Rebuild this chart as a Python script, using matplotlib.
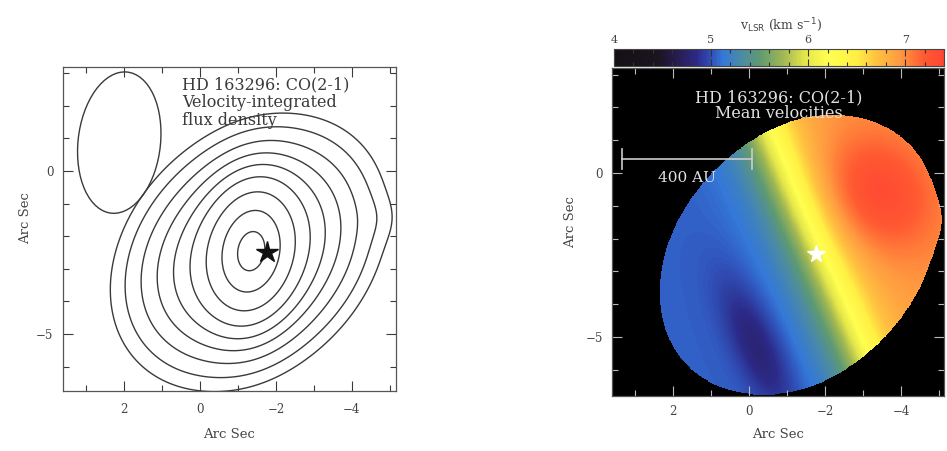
import numpy as np
import matplotlib
matplotlib.use("Agg")
import matplotlib.pyplot as plt
from matplotlib.colors import LinearSegmentedColormap
from matplotlib.patches import Ellipse
from matplotlib.ticker import MultipleLocator

plt.rcParams['font.family'] = ['DejaVu Serif']

# ---- velocity-integrated CO(2-1) flux: elliptical Gaussian components ----
comp_amp = [0.50, 0.50, 0.012]
comp_x0 = [-1.36, -1.29, -4.80]
comp_y0 = [-2.45, -2.50, -1.45]
comp_smaj = [1.30, 2.40, 0.50]
comp_smin = [0.70, 1.75, 0.40]
comp_pa = [95.0, 120.0, 90.0]          # major-axis angle, deg from +x
# offsets east of the peak (arcsec) where each contour crosses the E-W cut
contour_radii = [0.36, 0.765, 1.17, 1.575, 1.98, 2.385, 2.79, 3.195, 3.57]

# synthesized beam (arcsec)
beam_x, beam_y = 2.12, 0.87
beam_w, beam_h, beam_pa = 2.17, 4.35, 5.0

# stellar position (arcsec offsets)
star_x, star_y = -1.76, -2.48

# ---- mean velocity field (km/s) ----
v_sys = 6.0
v_amp = 0.95
v_scale = 1.0
v_grad_pa = 159.6
v_bump_amp = [0.40, -0.28]
v_bump_x0 = [-3.4, -0.2]
v_bump_y0 = [-0.6, -5.3]
v_bump_sa = [1.3, 1.5]
v_bump_sb = [1.0, 0.45]
v_bump_pa = [69.6, 69.6]

v_min, v_max = 4.0, 7.4
cbar_ticks = [4, 5, 6, 7]

# colour table for v_LSR
cmap_vals = [4.0, 4.45, 4.65, 4.85, 5.0, 5.12, 5.3, 5.5, 5.75, 5.97,
             6.2, 6.5, 6.7, 6.95, 7.2, 7.4]
cmap_cols = ['#141014', '#1a1420', '#281c50', '#2c2a88', '#3050b8', '#3478d8',
             '#4a8aa8', '#5f9a72', '#a2b852', '#e4e64a', '#ffff50', '#fff044',
             '#ffc440', '#ff9a40', '#ff5a32', '#ff4634']

# scale bar
scale_au = 400
distance_pc = 117.0
bar_x0, bar_y = 3.34, 0.43


def gauss2d(X, Y, amp, x0, y0, sa, sb, pa):
    t = np.deg2rad(pa)
    dx, dy = X - x0, Y - y0
    u = dx * np.cos(t) + dy * np.sin(t)
    w = -dx * np.sin(t) + dy * np.cos(t)
    return amp * np.exp(-0.5 * ((u / sa) ** 2 + (w / sb) ** 2))


x = np.linspace(-5.6, 4.0, 700)
y = np.linspace(-7.5, 3.6, 700)
X, Y = np.meshgrid(x, y)

flux = np.zeros_like(X)
for p in zip(comp_amp, comp_x0, comp_y0, comp_smaj, comp_smin, comp_pa):
    flux += gauss2d(X, Y, *p)
flux /= flux.max()

# contour levels: flux values at the listed radii along the E-W cut
iy, ix = np.unravel_index(np.argmax(flux), flux.shape)
cut = flux[iy, ix:]
cut_r = x[ix:] - x[ix]
flux_levels = np.sort(np.interp(contour_radii, cut_r, cut))

g = np.deg2rad(v_grad_pa)
t = (X - star_x) * np.cos(g) + (Y - star_y) * np.sin(g)
vel = v_sys + v_amp * np.tanh(t / v_scale)
for p in zip(v_bump_amp, v_bump_x0, v_bump_y0, v_bump_sa, v_bump_sb, v_bump_pa):
    vel += gauss2d(X, Y, *p)
vel = np.ma.masked_where(flux < flux_levels[0], vel)

cmap = LinearSegmentedColormap.from_list(
    'vlsr', list(zip([(v - v_min) / (v_max - v_min) for v in cmap_vals], cmap_cols)))

fig = plt.figure(figsize=(9.47, 4.51), dpi=100)
fig.patch.set_facecolor('white')
W, H = 947.0, 451.0

ink = '#3a3a3a'

# ---------------- left: integrated flux contours ----------------
ax1 = fig.add_axes([63 / W, 1 - 391 / H, 333 / W, 324 / H])
ax1.contour(X, Y, flux, levels=flux_levels, colors=ink, linewidths=1.0)
ax1.add_patch(Ellipse((beam_x, beam_y), beam_w, beam_h, angle=beam_pa,
                      fill=False, edgecolor=ink, lw=1.0))
ax1.plot([star_x], [star_y], marker='*', ms=16, color='#111111', ls='none')
ax1.set_xlim(3.6, -5.16)
ax1.set_ylim(-6.75, 3.19)
for txt, yy in (('HD 163296: CO(2-1)', 0.944), ('Velocity-integrated', 0.890),
                ('flux density', 0.836)):
    ax1.text(0.357, yy, txt, transform=ax1.transAxes, ha='left', va='center',
             fontsize=11.5, color=ink)

# ---------------- right: mean velocity map ----------------
ax2 = fig.add_axes([612 / W, 1 - 396 / H, 332 / W, 328 / H])
ax2.set_facecolor('black')
im = ax2.imshow(vel, extent=[x.min(), x.max(), y.min(), y.max()], origin='lower',
                cmap=cmap, vmin=v_min, vmax=v_max, interpolation='nearest',
                aspect='auto')
ax2.plot([star_x], [star_y], marker='*', ms=13, color='white', ls='none')
ax2.set_xlim(3.6, -5.13)
ax2.set_ylim(-6.8, 3.2)
light = '#e2e2e2'
ax2.text(0.5015, 0.9085, 'HD 163296: CO(2-1)', transform=ax2.transAxes,
         ha='center', va='center', fontsize=11.5, color=light)
ax2.text(0.5015, 0.860, 'Mean velocities', transform=ax2.transAxes,
         ha='center', va='center', fontsize=11.5, color=light)
bar_len = scale_au / distance_pc
ax2.plot([bar_x0, bar_x0 - bar_len], [bar_y, bar_y], color='#cccccc', lw=1.2)
for bx in (bar_x0, bar_x0 - bar_len):
    ax2.plot([bx, bx], [bar_y - 0.3, bar_y + 0.3], color='#cccccc', lw=1.2)
ax2.text(bar_x0 - bar_len / 2, bar_y - 0.58, f'{scale_au} AU', ha='center',
         va='center', fontsize=11, color=light)

for ax, tcol, xpad, ypad, xl_y, yl_x, yl_y in (
        (ax1, ink, 8.6, 7.0, -0.114, -0.093, 0.534),
        (ax2, '#bbbbbb', 6.5, 6.5, -0.098, -0.105, 0.53)):
    ax.xaxis.set_major_locator(MultipleLocator(2))
    ax.xaxis.set_minor_locator(MultipleLocator(1))
    ax.yaxis.set_major_locator(MultipleLocator(5))
    ax.yaxis.set_minor_locator(MultipleLocator(1))
    ax.tick_params(which='both', direction='in', top=True, right=True,
                   color=tcol, labelcolor='#444444', labelsize=8.5, width=0.8)
    ax.tick_params(which='major', length=7)
    ax.tick_params(which='minor', length=4)
    ax.tick_params(axis='x', pad=xpad)
    ax.tick_params(axis='y', pad=ypad)
    for s in ax.spines.values():
        s.set_color('#555555')
        s.set_linewidth(0.9)
    ax.set_xlabel('Arc Sec', fontsize=9.5, color='#444444')
    ax.set_ylabel('Arc Sec', fontsize=9.5, color='#444444')
    ax.xaxis.set_label_coords(0.5, xl_y)
    ax.yaxis.set_label_coords(yl_x, yl_y)

# ---------------- colour bar ----------------
cax = fig.add_axes([614 / W, 1 - 66 / H, 330 / W, 17 / H])
cb = fig.colorbar(im, cax=cax, orientation='horizontal')
cb.set_ticks(cbar_ticks)
cb.outline.set_edgecolor('#444444')
cb.outline.set_linewidth(0.8)
cax.xaxis.set_minor_locator(MultipleLocator(0.2))
cax.xaxis.set_ticks_position('both')
cax.tick_params(which='both', direction='in', color='#333333', width=0.8,
                labeltop=True, labelbottom=False, labelsize=8,
                labelcolor='#444444', pad=3)
cax.tick_params(which='major', length=5)
cax.tick_params(which='minor', length=3)
fig.text(781 / W, 1 - 25 / H, r'v$_{\rm LSR}$ (km s$^{-1}$)', ha='center',
         va='center', fontsize=9, color='#444444')

fig.savefig('out.png', dpi=100)
